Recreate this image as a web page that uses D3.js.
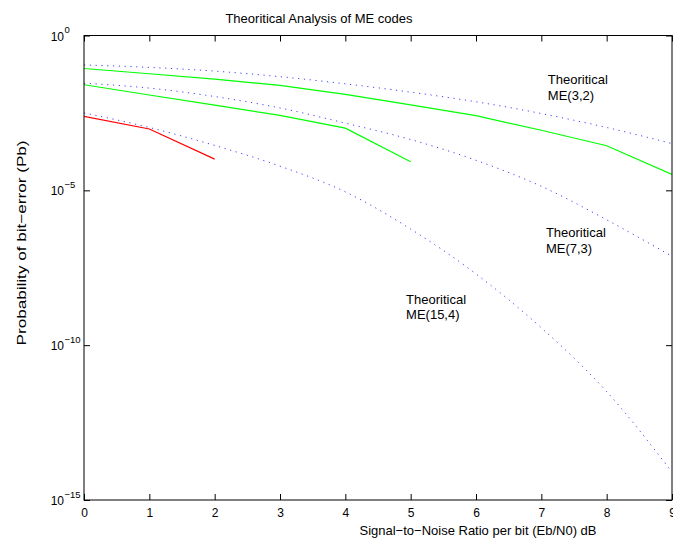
<!DOCTYPE html>
<html>
<head>
<meta charset="utf-8">
<script src="https://cdn.jsdelivr.net/npm/d3@7"></script>
<style>
  html, body { margin: 0; padding: 0; background: #fff; }
  svg { display: block; font-family: "Liberation Sans", Arial, Helvetica, sans-serif; }
</style>
</head>
<body>
<script>
// ---- data ----
const snr = [0, 1, 2, 3, 4, 5, 6, 7, 8, 9];
const theoryME32  = [0.112, 0.0933, 0.0708, 0.0468, 0.0275, 0.0148, 7.24e-3, 3.02e-3, 1.07e-3, 3.24e-4];
const theoryME73  = [0.0288, 0.0200, 0.0107, 4.57e-3, 1.48e-3, 4.37e-4, 9.33e-5, 1.35e-5, 1.12e-6, 7.41e-8];
const theoryME154 = [3.16e-3, 1.07e-3, 2.82e-4, 6.03e-5, 8.91e-6, 5.62e-7, 2.0e-8, 3.63e-10, 3.16e-12, 7.94e-15];
const simSnr32  = [0, 1, 2, 3, 4, 5, 6, 7, 8, 9];
const simME32   = [0.0861, 0.0582, 0.0389, 0.0245, 0.0126, 5.75e-3, 2.57e-3, 8.71e-4, 2.75e-4, 3.24e-5];
const simSnr73  = [0, 1, 2, 3, 4, 5];
const simME73   = [0.0257, 0.0120, 5.62e-3, 2.63e-3, 1.02e-3, 8.32e-5];
const simSnr154 = [0, 1, 2];
const simME154  = [2.45e-3, 9.55e-4, 1.02e-4];
const xTicks = [0, 1, 2, 3, 4, 5, 6, 7, 8, 9];
const yTicks = [1e0, 1e-5, 1e-10, 1e-15];
const yTickExp = ["0", "\u22125", "\u221210", "\u221215"];
const annotations = [
  { x: 7.10, y: 2.7e-2, lines: ["Theoritical", "ME(3,2)"] },
  { x: 7.07, y: 3.1e-7, lines: ["Theoritical", "ME(7,3)"] },
  { x: 4.93, y: 2.2e-9, lines: ["Theoritical", "ME(15,4)"] }
];
const titleText = "Theoritical Analysis of ME codes";
const xLabel = "Signal\u2212to\u2212Noise Ratio per bit (Eb/N0) dB";
const yLabel = "Probability of bit\u2212error (Pb)";

// ---- layout ----
const W = 673, H = 544;
const mLeft = 84, mRight = 672, mTop = 35.5, mBottom = 500;

const svg = d3.select("body").append("svg").attr("width", W).attr("height", H);
svg.append("rect").attr("width", W).attr("height", H).attr("fill", "#fff");

const x = d3.scaleLinear().domain([0, 9]).range([mLeft, mRight]);
const y = d3.scaleLog().domain([1e-15, 1]).range([mBottom, mTop]);

svg.append("clipPath").attr("id", "clip")
  .append("rect").attr("x", mLeft).attr("y", mTop).attr("width", mRight - mLeft).attr("height", mBottom - mTop);

const plot = svg.append("g").attr("clip-path", "url(#clip)");

function series(xs, ys) { return xs.map((d, i) => [d, ys[i]]); }

const smooth = d3.line().x(d => x(d[0])).y(d => y(d[1])).curve(d3.curveMonotoneX);
const straight = d3.line().x(d => x(d[0])).y(d => y(d[1]));

[theoryME32, theoryME73, theoryME154].forEach(s => {
  plot.append("path").attr("d", smooth(series(snr, s)))
    .attr("fill", "none").attr("stroke", "#0000ff").attr("stroke-width", 1)
    .attr("stroke-dasharray", "1.2,4.6").attr("opacity", 0.75);
});
plot.append("path").attr("d", straight(series(simSnr32, simME32)))
  .attr("fill", "none").attr("stroke", "#00ff00").attr("stroke-width", 1.2);
plot.append("path").attr("d", straight(series(simSnr73, simME73)))
  .attr("fill", "none").attr("stroke", "#00ff00").attr("stroke-width", 1.2);
plot.append("path").attr("d", straight(series(simSnr154, simME154)))
  .attr("fill", "none").attr("stroke", "#ff0000").attr("stroke-width", 1.2);

// ---- axes ----
const tickLen = 6;
const xAxisB = d3.axisBottom(x).tickValues(xTicks).tickSizeInner(-tickLen).tickSizeOuter(0).tickPadding(10).tickFormat(d3.format("d"));
const gxb = svg.append("g").attr("transform", `translate(0,${mBottom})`).call(xAxisB);
gxb.select(".domain").remove();
gxb.selectAll(".tick line").attr("stroke", "#000");
gxb.selectAll(".tick text").attr("font-size", 12).attr("font-family", "Liberation Sans, Arial, sans-serif").attr("fill", "#000").attr("dy", "0.55em");

const xAxisT = d3.axisTop(x).tickValues(xTicks).tickSizeInner(-tickLen).tickSizeOuter(0).tickFormat("");
const gxt = svg.append("g").attr("transform", `translate(0,${mTop})`).call(xAxisT);
gxt.select(".domain").remove();
gxt.selectAll(".tick line").attr("stroke", "#000");

const yAxisL = d3.axisLeft(y).tickValues(yTicks).tickSizeInner(-tickLen).tickSizeOuter(0).tickFormat("");
const gyl = svg.append("g").attr("transform", `translate(${mLeft},0)`).call(yAxisL);
gyl.select(".domain").remove();
gyl.selectAll(".tick line").attr("stroke", "#000");

const yAxisR = d3.axisRight(y).tickValues(yTicks).tickSizeInner(-tickLen).tickSizeOuter(0).tickFormat("");
const gyr = svg.append("g").attr("transform", `translate(${mRight},0)`).call(yAxisR);
gyr.select(".domain").remove();
gyr.selectAll(".tick line").attr("stroke", "#000");

// y tick labels 10^n
yTicks.forEach((v, i) => {
  svg.append("text").attr("x", 64).attr("y", y(v) + 5)
    .attr("text-anchor", "end").attr("font-size", 12).attr("fill", "#000").text("10");
  svg.append("text").attr("x", 64.5).attr("y", y(v) - 2.5)
    .attr("font-size", 9.5).attr("fill", "#000").text(yTickExp[i]);
});

// box
svg.append("rect").attr("x", mLeft).attr("y", mTop).attr("width", mRight - mLeft).attr("height", mBottom - mTop)
  .attr("fill", "none").attr("stroke", "#000").attr("stroke-width", 1);

// annotations
annotations.forEach(a => {
  const t = svg.append("text").attr("x", x(a.x)).attr("y", y(a.y))
    .attr("font-size", 13).attr("fill", "#000");
  a.lines.forEach((l, i) => {
    t.append("tspan").attr("x", x(a.x)).attr("dy", i === 0 ? 0 : 15.5).text(l);
  });
});

// title and labels
svg.append("text").attr("x", 319).attr("y", 23).attr("text-anchor", "middle")
  .attr("font-size", 13).attr("fill", "#000").text(titleText);
svg.append("text").attr("x", 478).attr("y", 535).attr("text-anchor", "middle")
  .attr("font-size", 13).attr("fill", "#000").text(xLabel);
svg.append("text").attr("transform", "translate(26,243) rotate(-90)").attr("text-anchor", "middle")
  .attr("font-size", 13).attr("fill", "#000")
  .attr("textLength", 205).attr("lengthAdjust", "spacingAndGlyphs").text(yLabel);
</script>
</body>
</html>
